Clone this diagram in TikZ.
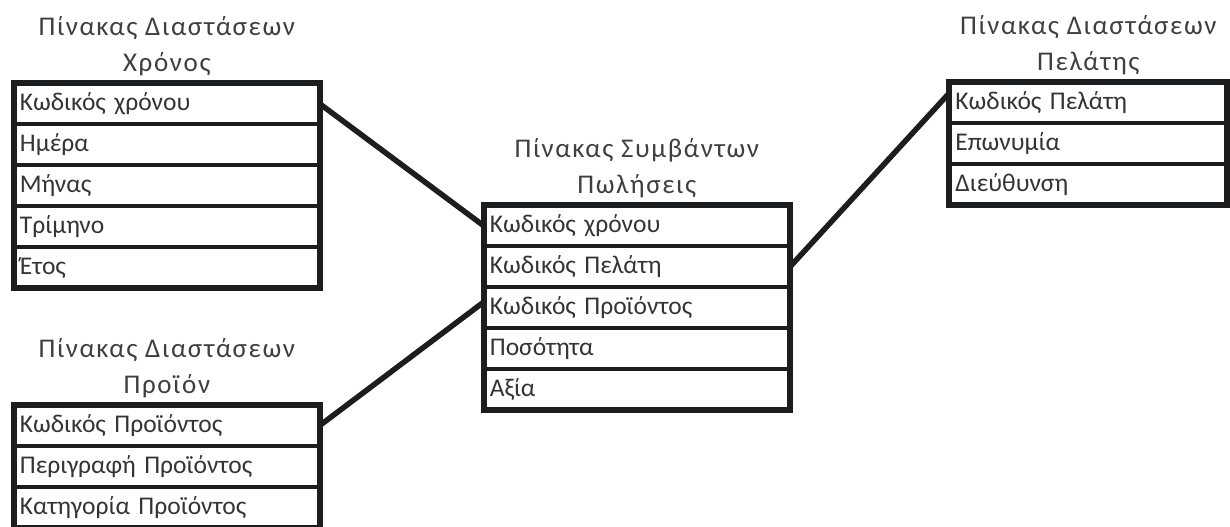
\documentclass[tikz,border=0pt]{standalone}
\usepackage{fontspec}
\setmainfont{Carlito}
\newfontfamily\headfont{Carlito}[LetterSpace=6]
\usetikzlibrary{positioning}
\definecolor{ink}{HTML}{1B1D1F}
\tikzset{
	field/.style={
		% The shape:
		rectangle,minimum height=20.5pt,text width=#1,
		% The border:
		draw=ink,line width=2pt,outer sep=0pt,
		% The text:
		inner xsep=3pt,align=left,text=ink!90,
		font=\fontsize{12.75}{14}\selectfont
	},
	field/.default=147pt}
\tikzset{
	table/.style={
		matrix,inner sep=0pt,row sep=-2pt,anchor=north west
	},
	frame/.style={draw=ink,line width=3pt},
	link/.style={draw=ink,line width=2.75pt},
	title/.style={
		align=center,text=ink!85,
		font=\headfont\fontsize{13.5}{18}\selectfont
	}}

\begin{document}
\begin{tikzpicture}[x=0.5pt,y=-0.5pt]
	\useasboundingbox (0,0) rectangle (1230,526);
	% dimension table: time
	\matrix (time) [table] at (11.5,81) {
		\node[field] (t-1) {Κωδικός χρόνου}; \\
		\node[field] (t-2) {Ημέρα}; \\
		\node[field] (t-3) {Μήνας}; \\
		\node[field] (t-4) {Τρίμηνο}; \\
		\node[field] (t-5) {Έτος}; \\
	};
	\draw[frame] (t-1.north west) rectangle (t-5.south east);
	\node[title,above=0pt of t-1] (t-title) {Πίνακας Διαστάσεων\\Χρόνος};
	% dimension table: product
	\matrix (prod) [table] at (11.5,402.5) {
		\node[field] (p-1) {Κωδικός Προϊόντος}; \\
		\node[field] (p-2) {Περιγραφή Προϊόντος}; \\
		\node[field] (p-3) {Κατηγορία Προϊόντος}; \\
	};
	\draw[frame] (p-1.north west) rectangle (p-3.south east);
	\node[title,above=0pt of p-1] (p-title) {Πίνακας Διαστάσεων\\Προϊόν};
	% fact table: sales
	\matrix (sales) [table,nodes={line width=1.5pt}] at (481.5,203) {
		\node[field] (s-1) {Κωδικός χρόνου}; \\
		\node[field] (s-2) {Κωδικός Πελάτη}; \\
		\node[field] (s-3) {Κωδικός Προϊόντος}; \\
		\node[field] (s-4) {Ποσότητα}; \\
		\node[field] (s-5) {Αξία}; \\
	};
	\draw[frame] (s-1.north west) rectangle (s-5.south east);
	\node[title,above=0pt of s-1] (s-title) {Πίνακας Συμβάντων\\Πωλήσεις};
	% dimension table: customer
	\matrix (cust) [table] at (947,80) {
		\node[field=133pt] (c-1) {Κωδικός Πελάτη}; \\
		\node[field=133pt] (c-2) {Επωνυμία}; \\
		\node[field=133pt] (c-3) {Διεύθυνση}; \\
	};
	\draw[frame] (c-1.north west) rectangle (c-3.south east);
	\node[title,above=0pt of c-1] (c-title) {Πίνακας Διαστάσεων\\Πελάτης};
	% keys
	\draw[link] (t-1.east) -- (s-1.west);
	\draw[link] (p-1.east) -- ([yshift=3pt]s-3.west);
	\draw[link] (s-2.east) -- ([yshift=5pt]c-1.west);
\end{tikzpicture}
\end{document}
